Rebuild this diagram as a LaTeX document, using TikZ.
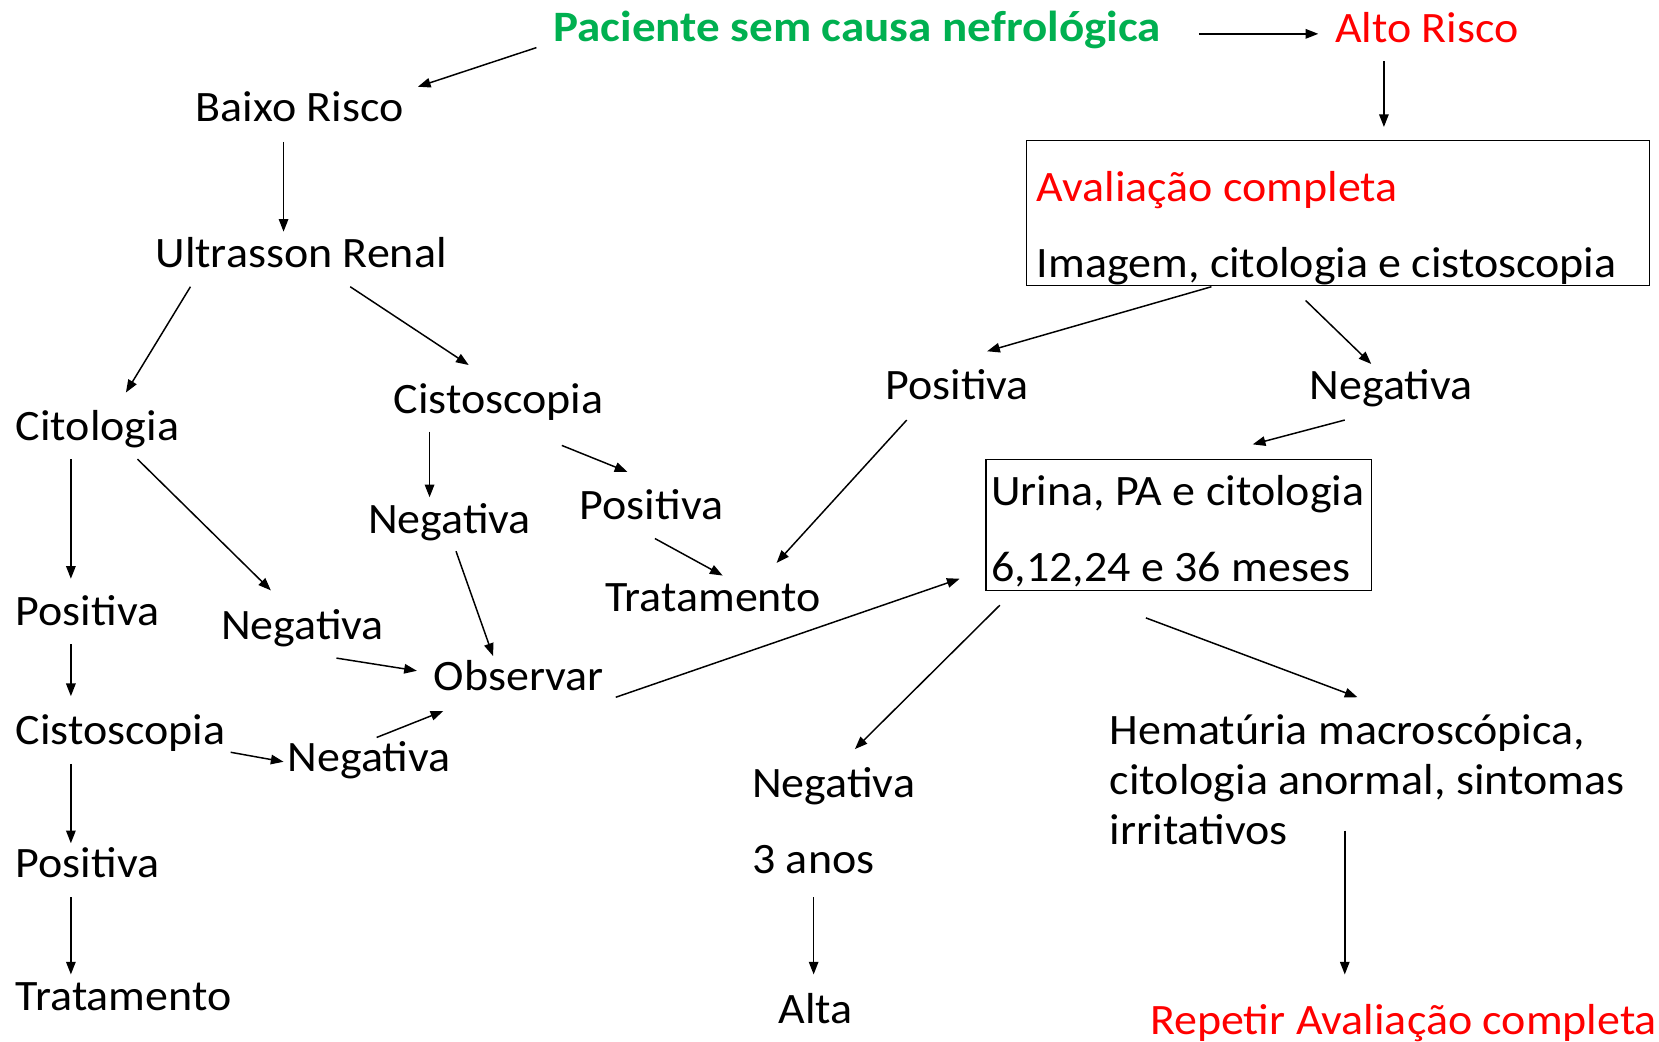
\documentclass[tikz,border=0pt]{standalone}
\usepackage{fontspec}
\setmainfont{Carlito}[FakeStretch=1.06,BoldFeatures={FakeStretch=1.085}]
\usetikzlibrary{arrows.meta,calc}
\definecolor{pgreen}{HTML}{00B050}
\definecolor{pred}{HTML}{FF0000}
\newcommand{\tstrut}{\rule[-10pt]{0pt}{36pt}}
\begin{document}
\begin{tikzpicture}[x=1pt,y=-1pt,
  txt/.style={anchor=west,inner sep=0pt,outer sep=0pt,text height=36pt,text depth=10pt,font=\fontsize{41}{47.5}\selectfont},
  arr/.style={-{Triangle[length=12pt,width=9pt]},line width=1.4pt},
  box/.style={draw,line width=1.2pt,anchor=north west,inner sep=0pt,outer sep=0pt}]
\useasboundingbox[fill=white] (0,0) rectangle (1568,984);
% nodes
\node[txt,font=\fontsize{41}{47.5}\selectfont\bfseries,text=pgreen] (pac) at (523,26) {Paciente sem causa nefrológica};
\node[txt,text=pred] (alto) at (1262,27) {Alto Risco};
\node[txt] (baixo) at (185,102) {Baixo Risco};
\node[txt] (ultra) at (147,240) {Ultrasson Renal};
\node[txt] (cito) at (15,403) {Citologia};
\node[txt] (cist1) at (372,378) {Cistoscopia};
\node[txt] (neg1) at (348,491) {Negativa};
\node[txt] (pos1) at (548,478) {Positiva};
\node[txt] (trat1) at (572,565) {Tratamento};
\node[txt] (pos2) at (15,578) {Positiva};
\node[txt] (neg2) at (209,591) {Negativa};
\node[txt] (obs) at (410,640) {Observar};
\node[txt] (cist2) at (15,691) {Cistoscopia};
\node[txt] (neg3) at (272,716) {Negativa};
\node[txt] (pos3) at (15,816) {Positiva};
\node[txt] (trat2) at (15,942) {Tratamento};
\node[box,minimum width=589pt,minimum height=137pt] (aval) at (970,133) {};
\node[txt,text=pred] (avt1) at (980,177) {Avaliação completa};
\node[txt] (avt2) at (980,249) {Imagem, citologia e cistoscopia};
\node[txt] (posR) at (837,365) {Positiva};
\node[txt] (negR) at (1238,365) {Negativa};
\node[box,minimum width=364pt,minimum height=124pt] (urina) at (932,434) {};
\node[txt] (urt1) at (937,465) {Urina, PA e citologia};
\node[txt] (urt2) at (937,537) {6,12,24 e 36 meses};
\node[txt] (negB) at (711,741) {Negativa};
\node[txt] (anos) at (711,813) {3 anos};
\node[txt] (alta) at (736,954) {Alta};
\node[txt,text height=,text depth=,align=left] (hemat) at (1049,742) {\tstrut Hematúria macroscópica,\\\tstrut citologia anormal, sintomas\\\tstrut irritativos};
\node[txt,text=pred] (rep) at (1087,965) {Repetir Avaliação completa};
% connectors
\draw[arr] ($(pac.west)+(-16,19)$) -- ($(baixo.west)+(210,-20)$);
\draw[arr] ($(pac.west)+(610,6)$) -- ($(alto.west)+(-16,5)$);
\draw[arr] ($(alto.west)+(46,31)$) -- ($(aval.north west)+(338,-13)$);
\draw[arr] ($(baixo.west)+(83,32)$) -- ($(ultra.west)+(121,-21)$);
\draw[arr] ($(ultra.west)+(33,31)$) -- ($(cito.west)+(104,-32)$);
\draw[arr] ($(ultra.west)+(184,31)$) -- ($(cist1.west)+(71,-33)$);
\draw[arr] ($(cito.west)+(52,31)$) -- ($(pos2.west)+(52,-31)$);
\draw[arr] ($(cito.west)+(115,31)$) -- ($(neg2.west)+(47,-33)$);
\draw[arr] ($(cist1.west)+(34,30)$) -- ($(neg1.west)+(58,-21)$);
\draw[arr] ($(cist1.west)+(159,43)$) -- ($(pos1.west)+(45,-32)$);
\draw[arr] ($(pos1.west)+(71,31)$) -- ($(trat1.west)+(111,-21)$);
\draw[arr] ($(neg1.west)+(83,30)$) -- ($(obs.west)+(56,-20)$);
\draw[arr] ($(neg2.west)+(109,31)$) -- ($(obs.west)+(-16,-6)$);
\draw[arr] ($(neg3.west)+(84,-19)$) -- ($(obs.west)+(9,32)$);
\draw[arr] ($(cist2.west)+(203,20)$) -- ($(neg3.west)+(-4,4)$);
\draw[arr] ($(pos2.west)+(52,31)$) -- ($(cist2.west)+(52,-33)$);
\draw[arr] ($(cist2.west)+(52,31)$) -- ($(pos3.west)+(52,-19)$);
\draw[arr] ($(pos3.west)+(52,32)$) -- ($(trat2.west)+(52,-21)$);
\draw[arr] ($(obs.west)+(172,19)$) -- ($(urina.north west)+(-25,113)$);
\draw[arr] ($(aval.north west)+(175,138)$) -- ($(posR.west)+(96,-33)$);
\draw[arr] ($(aval.north west)+(264,151)$) -- ($(negR.west)+(58,-21)$);
\draw[arr] ($(negR.west)+(33,32)$) -- ($(urina.north west)+(252,-14)$);
\draw[arr] ($(posR.west)+(20,32)$) -- ($(trat1.west)+(162,-33)$);
\draw[arr] ($(urina.north west)+(13,138)$) -- ($(negB.west)+(97,-33)$);
\draw[arr] ($(urina.north west)+(151,150)$) -- ($(hemat.west)+(234,-83)$);
\draw[arr] ($(anos.west)+(58,35)$) -- ($(alta.west)+(33,-33)$);
\draw[arr] ($(hemat.west)+(222,43)$) -- ($(rep.west)+(184,-44)$);
\end{tikzpicture}
\end{document}
